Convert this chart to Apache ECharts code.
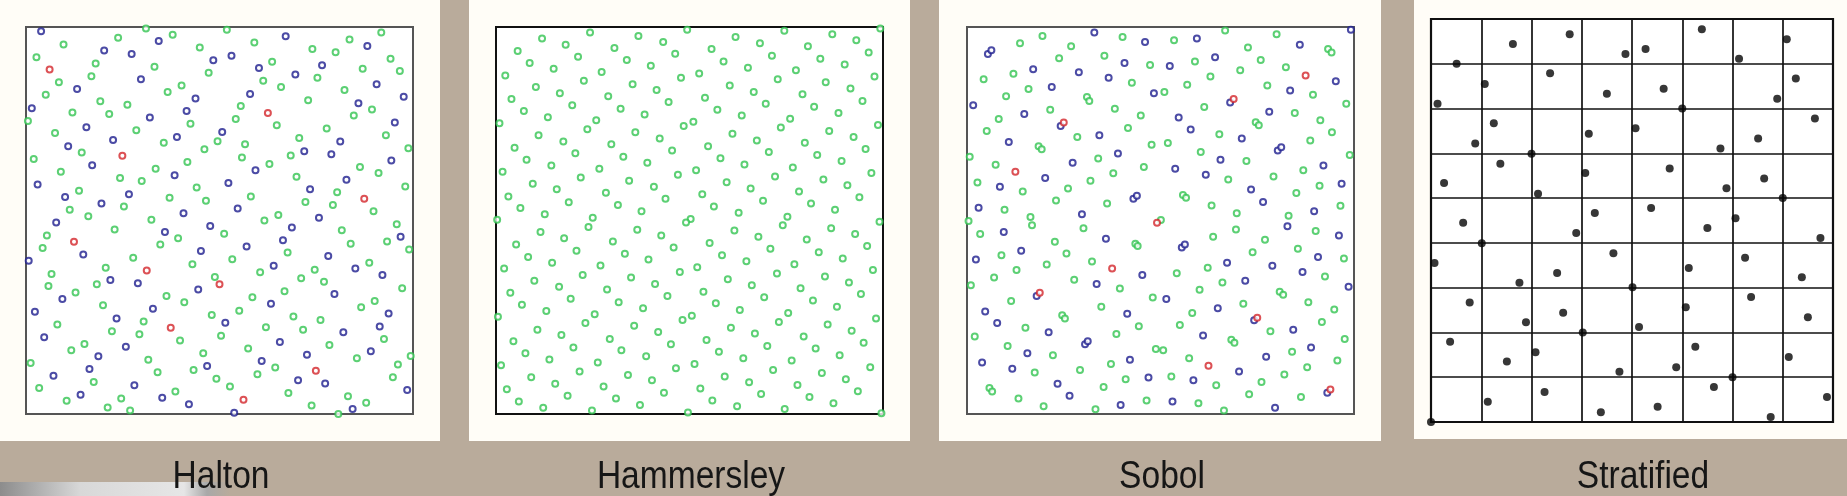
<!DOCTYPE html>
<html>
<head>
<meta charset="utf-8">
<script src="https://cdn.jsdelivr.net/npm/echarts@6/dist/echarts.min.js"></script>
<style>html,body{margin:0;padding:0;background:#b9ab9b;}#c{width:1847px;height:496px;}</style>
</head>
<body>
<div id="c"></div>
<script>
// ---- titles ----
const panelTitles = ['Halton', 'Hammersley', 'Sobol', 'Stratified'];

// ---- Halton (percent of unit square) ----
const haltonRed = [[6.1,89.0],[62.5,77.8],[24.9,66.7],[87.4,55.6],[12.4,44.5],[31.2,37.1],[50.0,33.5],[37.4,22.3],[74.9,11.2],[56.2,3.7]];
const haltonBlue = [[3.9,98.9],[34.3,96.4],[67.1,97.6],[88.2,95.1],[20.2,93.9],[27.3,93.0],[48.4,91.4],[53.1,92.6],[60.2,89.4],[76.5,90.1],[29.7,86.5],[69.6,87.7],[13.2,84.0],[90.6,85.2],[43.8,81.5],[57.9,82.7],[97.6,82.0],[1.5,79.0],[85.9,80.3],[41.5,78.3],[32.0,76.6],[95.3,75.3],[15.6,74.1],[50.7,72.9],[22.5,70.8],[39.0,71.6],[81.2,70.4],[10.9,69.2],[71.9,67.9],[78.9,67.1],[17.1,64.3],[94.4,65.5],[38.4,61.7],[59.3,63.0],[82.8,60.5],[3.0,59.3],[52.3,59.7],[73.4,58.1],[10.1,56.1],[26.6,56.8],[19.5,54.4],[54.7,53.1],[40.7,51.9],[75.7,50.7],
[7.8,49.5],[47.6,48.6],[68.7,48.2],[35.9,47.0],[66.4,44.9],[96.8,45.8],[57.0,43.3],[14.8,41.2],[45.2,42.1],[78.1,40.8],[0.7,39.6],[64.0,38.3],[85.1,37.6],[92.1,35.9],[21.8,34.6],[28.9,33.8],[44.5,32.2],[9.4,29.7],[79.7,31.0],[63.3,28.5],[2.3,26.4],[32.8,27.2],[93.7,26.0],[23.4,24.7],[51.5,23.6],[91.4,22.6],[82.0,21.1],[4.7,19.8],[65.6,18.6],[25.8,17.4],[89.1,16.2],[72.6,15.3],[18.7,14.9],[60.9,13.7],[16.4,11.6],[46.8,12.4],[7.1,9.9],[70.3,8.7],[77.3,7.9],[28.0,7.4],[98.5,6.2],[14.1,5.0],[35.2,4.2],[42.1,2.5],[84.4,1.3],[53.8,0.3]];
const haltonGreen = [[31,99.6],[37.9,98.0],[51.9,99.3],[91.8,98.6],[9.7,95.5],[23.8,97.2],[59.0,96.0],[83.6,96.8],[44.9,94.7],[2.7,92.2],[74.0,94.3],[80.0,93.5],[94.2,91.8],[18.0,90.6],[33.2,89.7],[63.6,91.0],[87.0,89.2],[96.6,88.6],[16.9,87.3],[47.2,88.2],[75.3,86.9],[8.5,85.7],[36.6,83.2],[40.2,84.9],[61.3,86.1],[65.9,84.5],[82.3,83.7],[5.1,82.5],[19.2,80.8],[26.2,79.9],[55.5,79.6],[72.9,81.1],[12.0,77.9],[21.5,77.5],[89.4,78.7],[84.7,77.1],[0.5,75.7],[54.2,76.2],[42.5,75.0],[64.8,74.6],[7.5,72.6],[28.5,73.3],[77.7,73.8],[35.6,70.1],[49.5,70.5],[56.6,69.7],[70.6,71.3],[93.0,72.0],[14.4,67.6],[46.1,68.4],[55.8,66.3],[68.4,66.8],[98.8,68.7],[2.0,65.9],[41.7,65.1],[62.9,64.6],[9.0,62.6],[33.5,63.4],[86.3,63.8],[91.1,62.3],[24.3,61.0],[29.9,60.2],[69.9,61.3],[44.1,58.5],[98.0,58.8],[13.7,57.7],[37.1,55.9],[46.5,55.1],[58.1,56.2],[80.4,57.3],[72.2,54.8],[25.3,53.6],[11.3,52.8],[79.3,54.0],[89.8,52.4],[16.1,51.1],[65.2,51.4],
[32.4,50.2],[61.6,50.0],[95.8,49.0],[22.9,47.7],[51.2,46.6],[81.6,47.5],[5.4,46.1],[39.3,45.4],[93.3,44.6],[83.9,44.0],[4.3,42.9],[34.7,43.8],[67.6,41.7],[99.0,42.5],[27.7,40.4],[53.3,40.0],[43.0,38.7],[88.7,39.1],[20.6,37.8],[6.6,36.2],[60.5,36.6],[74.6,37.3],[48.8,35.4],[71.1,35.1],[5.8,33.1],[18.3,33.5],[77.0,34.2],[12.8,31.4],[66.8,31.7],[97.2,32.5],[36.3,30.5],[58.5,30.2],[40.9,28.9],[19.9,28.1],[90.1,29.2],[86.6,27.6],[48.0,25.6],[55.1,26.7],[69.1,25.2],[76.1,24.3],[8.1,23.1],[30.4,23.9],[22.2,21.4],[62.0,22.4],[71.6,21.8],[29.3,20.6],[50.4,20.2],[39.8,19.0],[92.5,19.4],[15.1,18.1],[78.4,17.8],[11.7,16.5],[57.4,16.9],[45.8,15.7],[1.2,13.2],[31.6,14.0],[85.5,14.4],[99.4,15.0],[34.0,10.8],[43.3,11.4],[64.4,12.0],[96.1,12.8],[17.5,8.3],[49.2,9.1],[59.8,10.3],[94.8,9.5],[3.4,6.7],[52.7,7.1],[38.6,5.8],[67.8,5.4],[24.6,4.0],[83.2,4.6],[10.5,3.4],[73.8,2.2],[87.9,2.9],[21.1,1.7],[26.9,0.9],[80.7,0.0]];

// ---- Hammersley ----
const hammersley = [[11.9,97.0],[24.3,98.6],[36.8,97.7],[49.4,99.3],[61.9,97.4],[74.5,99.0],[86.9,98.1],[99.3,99.6],
[5.6,93.8],[18.0,95.4],[30.6,94.6],[43.2,96.1],[55.7,94.3],[68.2,95.8],[80.6,95.0],[93.1,96.6],
[8.7,90.7],[21.2,92.3],[33.8,91.5],[46.3,93.1],[58.8,91.1],[71.3,92.6],[83.8,91.8],[96.3,93.4],
[2.4,87.5],[14.9,89.2],[27.3,88.4],[40.0,90.0],[52.5,88.0],[65.1,89.5],[77.5,88.8],[90.1,90.3],
[10.3,84.5],[22.7,86.1],[35.3,85.2],[47.8,86.9],[60.4,84.9],[72.8,86.5],[85.2,85.7],[97.8,87.2],
[4.0,81.4],[16.5,82.9],[29.0,82.1],[41.5,83.7],[54.0,81.7],[66.6,83.2],[79.2,82.6],[91.6,84.1],
[7.2,78.3],[19.7,79.8],[32.2,78.9],[44.6,80.6],[57.2,78.6],[69.7,80.2],[82.2,79.4],[94.7,80.9],
[0.9,75.1],[13.4,76.7],[25.9,75.9],[38.4,77.4],[51.0,75.5],[63.5,77.1],[76.0,76.3],[88.5,77.8],
[11.0,72.0],[23.6,73.6],[36.0,72.8],[48.5,74.4],[61.1,72.4],[73.6,74.0],[86.1,73.1],[98.7,74.7],
[4.8,68.8],[17.4,70.4],[29.8,69.7],[42.3,71.2],[54.8,69.2],[67.4,70.7],[79.8,70.1],[92.4,71.6],
[7.9,65.7],[20.5,67.4],[32.9,66.5],[45.5,68.1],[58.0,66.1],[70.5,67.7],[83.0,66.9],[95.5,68.5],
[1.7,62.6],[14.3,64.2],[26.7,63.4],[39.1,64.9],[51.7,63.0],[64.2,64.5],[76.7,63.7],[89.3,65.4],
[9.5,59.5],[21.9,61.1],[34.4,60.3],[47.0,61.8],[59.6,59.9],[72.1,61.4],[84.6,60.6],[97.0,62.3],
[3.2,56.2],[15.7,58.1],[28.4,57.2],[40.8,58.7],[53.3,56.8],[65.8,58.3],[78.3,57.5],[90.8,59.1],
[6.3,53.2],[18.8,54.7],[31.5,54.0],[43.8,55.6],[56.3,53.6],[69.0,55.1],[81.4,54.4],[93.9,56.0],
[12.6,51.6],[37.6,52.4],[62.7,52.0],[87.6,52.8],
[25.0,50.7],[75.3,51.0],[50.3,50.4],[49.1,49.5],[0.3,50.2],[99.1,49.7],[23.9,48.3],[74.1,48.8],[86.6,48.0],[11.5,47.0],[36.5,47.6],[61.6,47.4],[92.8,46.5],
[17.6,45.4],[42.7,46.1],[67.8,45.8],[30.2,44.6],[55.2,44.2],[80.3,45.1],[5.2,43.8],[95.9,43.4],[45.9,43.0],[70.9,42.7],[20.8,42.2],[83.4,41.8],[33.3,41.4],[58.4,41.0],[8.3,40.6],[89.6,40.2],[39.4,39.9],
[64.7,39.5],[14.5,39.1],[27.0,38.4],[52.0,37.9],[77.1,38.7],[2.1,37.6],[97.4,37.2],[47.5,36.7],[72.6,36.3],[22.4,35.9],[34.9,35.3],[59.9,34.8],[85.0,35.5],[9.9,34.4],
[41.1,33.6],[66.1,33.3],[91.2,34.0],[16.3,32.9],[28.7,32.2],[53.6,31.6],[78.7,32.5],[3.7,31.3],[44.3,30.5],[69.3,30.2],[94.3,31.0],[19.3,29.8],[31.7,28.9],[56.8,28.6],[81.9,29.3],
[6.7,28.2],[38.0,27.3],[63.0,26.9],[88.1,27.7],[13.0,26.6],[25.5,25.8],[50.6,25.4],[48.2,24.3],[75.5,26.1],[0.5,25.1],[98.2,24.7],[23.1,23.5],[73.1,23.8],[35.7,22.8],[60.7,22.3],[85.7,23.1],
[10.7,21.8],[41.9,21.2],[66.9,20.8],[91.9,21.5],[16.9,20.4],[29.4,19.4],[54.4,19.1],[79.5,20.0],[4.5,18.8],[95.0,18.4],[45.2,18.0],[70.1,17.6],[20.0,17.2],[32.4,16.5],[57.6,16.1],[82.6,16.9],
[7.6,15.7],[38.8,14.9],[63.9,14.4],[88.8,15.2],[13.8,14.1],[26.3,13.3],[51.3,12.9],[76.4,13.8],[1.3,12.6],[96.7,12.1],[46.5,11.8],[71.6,11.4],[21.6,11.0],[34.1,10.1],[59.1,9.7],[84.2,10.6],
[9.1,9.5],[40.3,8.7],[65.4,8.2],[90.4,9.0],[15.3,7.8],[27.8,7.1],[52.8,6.6],[77.9,7.5],[2.8,6.4],[43.4,5.5],[68.5,5.2],[93.5,5.9],[18.5,4.7],[31.0,4.0],[55.9,3.5],[81.0,4.4],[5.9,3.2],[12.2,1.6],[37.2,2.3],[62.3,2.0],[87.2,2.8],[24.8,0.9],[49.6,0.4],[74.6,1.3],[99.6,0.2]];

// ---- Sobol ----
const sobolRed = [[87.5,87.5],[68.9,81.4],[25.0,75.3],[12.5,62.6],[49.1,49.4],[37.5,37.6],[18.8,31.3],[75.0,24.9],[62.4,12.5],[93.9,6.3]];
const sobolBlue = [[32.9,98.6],[46.0,96.1],[59.4,97.0],[86.0,95.4],[99.2,99.3],[5.4,93.0],[6.3,94.0],[40.7,90.7],[52.4,89.9],[64.1,92.2],[17.1,89.1],[28.9,88.3],[36.6,86.9],[95.3,86.0],[21.9,84.5],[83.5,83.6],[48.3,82.9],[1.6,79.8],[68.0,80.5],[14.8,77.5],[54.7,76.6],[78.1,78.1],[24.2,74.4],[57.8,73.5],[10.8,70.3],[34.2,72.0],[71.0,71.2],[80.3,68.1],[81.2,68.9],[27.3,64.9],[39.0,67.3],[65.5,65.7],[53.8,63.4],[92.1,64.2],[61.7,61.8],[20.2,61.0],[96.8,59.5],[8.5,58.7],[73.4,58.0],[43.0,55.6],[43.9,56.4],[76.5,54.8],[3.0,53.3],[89.7,52.4],[29.7,51.6],
[82.8,48.5],[9.5,47.0],[35.9,45.3],[55.5,43.0],[56.3,43.8],[96.1,46.1],[2.3,39.9],[14.0,42.2],[90.7,40.6],[67.2,39.1],[78.9,38.3],[45.3,35.9],[86.7,36.7],[33.5,33.6],[71.9,34.4],[98.6,32.9],[18.0,30.5],[51.5,29.7],[64.8,27.3],[4.7,26.5],[41.4,25.9],[7.8,23.5],[74.2,24.2],[21.1,21.1],[61.0,20.3],[84.3,21.8],[30.5,18.0],[31.2,18.8],[88.9,17.2],[15.6,15.7],[77.3,14.8],[3.9,13.3],[42.1,14.0],[11.7,11.7],[70.3,11.0],[46.9,9.4],[58.5,8.7],[23.4,7.8],[93.1,5.5],[26.5,4.7],[53.1,3.2],[39.7,2.3],[79.6,1.6]];
const sobolGreen = [[19.5,97.7],[40.2,97.4],[53.5,96.6],[66.7,99.1],[80.0,98.1],[13.7,95.8],[26.9,95.0],[72.6,94.7],[93.3,94.3],[94.2,93.4],[23.8,91.9],[35.5,92.6],[47.3,90.2],[58.9,91.1],[75.9,91.5],[12.0,87.9],[70.6,88.8],[62.9,87.2],[82.4,89.6],[4.3,86.5],[15.9,84.0],[42.6,85.6],[56.9,85.1],[77.6,84.9],[10.1,82.1],[31.0,81.9],[31.6,80.9],[51.0,83.2],[89.4,82.5],[38.2,78.9],[61.3,79.3],[98.0,80.2],[21.5,78.6],[44.9,77.1],[84.7,77.8],[8.2,76.2],[41.6,73.9],[74.6,75.4],[75.4,74.6],[91.3,75.9],[5.1,73.1],[28.5,71.6],[65.2,72.3],[94.3,72.8],[47.7,69.6],[51.9,70.0],[18.5,69.2],[19.3,68.4],[88.7,70.7],[0.7,66.5],[7.4,64.4],[33.9,66.0],[60.4,67.7],[72.2,65.4],[98.9,66.9],[45.7,63.8],[37.8,62.2],[86.9,63.0],[2.7,59.8],[31.9,60.3],[67.5,60.6],[79.2,61.4],[14.4,57.5],[26.1,58.3],[91.1,59.0],[85.1,57.1],[55.8,56.6],[56.6,55.9],[23.0,55.2],[36.2,54.4],[63.2,53.9],[9.7,52.8],[96.5,53.8],[69.7,51.9],[83.1,51.2],[16.4,50.9],
[0.4,49.9],[16.8,48.8],[50.1,50.1],[30.1,48.0],[69.5,47.7],[90.1,47.3],[3.4,46.5],[43.5,44.0],[44.1,43.4],[63.6,45.8],[77.0,45.0],[22.7,44.5],[85.5,42.7],[8.9,41.0],[25.7,41.5],[73.8,41.8],[97.4,40.2],[20.6,38.6],[32.3,39.4],[12.8,37.2],[54.2,36.4],[62.2,37.8],[7.0,35.3],[27.7,34.7],[92.5,35.5],[1.0,33.3],[39.5,32.4],[66.0,34.0],[48.0,30.1],[60.1,32.1],[80.8,31.6],[81.7,30.8],[11.4,29.2],[34.7,27.7],[71.4,28.5],[88.2,28.9],[58.2,26.1],[94.9,27.0],[24.6,25.5],[25.3,24.7],[44.4,22.7],[55.0,23.0],[91.7,23.8],[15.1,22.3],[38.6,20.7],[78.4,21.4],[2.0,20.0],[68.3,19.2],[69.1,18.4],[97.6,19.4],[10.5,17.6],[48.8,16.8],[50.7,16.5],[22.2,15.2],[57.4,14.4],[84.0,16.1],[95.7,13.8],[37.2,12.9],[87.9,12.1],[29.2,11.4],[17.5,10.7],[52.8,9.7],[82.0,10.2],[41.0,9.0],[76.1,8.3],[64.4,7.4],[5.8,6.7],[6.5,5.8],[35.3,7.0],[72.9,5.1],[86.3,4.4],[13.3,4.0],[46.4,3.5],[59.8,2.8],[19.8,2.0],[33.2,1.2],[66.4,0.9]];

// ---- Stratified (cell units: 8 columns x 9 rows) ----
const stratified = [[2.76,8.66],[1.63,8.44],[5.39,8.77],[7.08,8.55],[3.87,8.22],[4.27,8.33],[6.13,8.11],[0.51,8.00],[2.37,7.79],[1.07,7.55],[7.26,7.67],[3.50,7.33],[4.63,7.44],[6.89,7.22],[0.13,7.11],[5.00,7.00],[1.25,6.67],[7.64,6.78],[3.14,6.44],[4.07,6.56],[6.51,6.33],[0.88,6.22],[5.76,6.11],[2.00,5.99],[1.38,5.77],[4.75,5.66],[3.07,5.56],[6.63,5.44],[0.26,5.34],[5.88,5.22],[2.13,5.10],[7.00,5.00],[3.26,4.67],[4.38,4.78],[0.64,4.45],[6.06,4.55],[5.50,4.33],[2.89,4.22],[7.75,4.11],[1.01,3.99],[3.63,3.77],[6.25,3.67],[0.07,3.55],[5.13,3.44],[2.51,3.33],[7.38,3.23],[1.76,3.11],[4.01,3.01],[6.37,2.79],[0.77,2.67],[5.07,2.56],[2.63,2.44],[7.50,2.34],[1.89,2.23],[4.14,2.12],[3.02,2.00],[0.38,1.79],[5.26,1.68],[2.08,1.56],[7.12,1.45],[1.51,1.35],[4.88,1.22],[3.75,1.12],[6.00,1.00],[5.63,0.78],[2.26,0.67],[7.88,0.56],[1.13,0.45],[4.51,0.34],[3.38,0.22],[6.76,0.11],[0.00,0.00]];
const stratCols = 8, stratRows = 9;

// ---------------- chart ----------------
const GREEN = '#33c451', BLUE = '#1e1e8e', RED = '#d3252b';
const chart = echarts.init(document.getElementById('c'), null, {renderer: 'canvas'});

const grids = [
  {left: 26, top: 27, width: 387, height: 387, show: true, backgroundColor: '#ffffff', borderColor: '#555555', borderWidth: 2},
  {left: 496, top: 27, width: 387, height: 387, show: true, backgroundColor: '#ffffff', borderColor: '#111111', borderWidth: 2},
  {left: 967, top: 27, width: 387, height: 387, show: true, backgroundColor: '#ffffff', borderColor: '#555555', borderWidth: 2},
  {left: 1431, top: 19, width: 402, height: 403, show: true, backgroundColor: '#ffffff', borderColor: '#111111', borderWidth: 2.2}
];
const hidden = {show: false};
const xAxes = [0,1,2].map(i => ({gridIndex: i, type: 'value', min: 0, max: 100, axisLine: hidden, axisTick: hidden, axisLabel: hidden, splitLine: hidden}));
const yAxes = [0,1,2].map(i => ({gridIndex: i, type: 'value', min: 0, max: 100, axisLine: hidden, axisTick: hidden, axisLabel: hidden, splitLine: hidden}));
xAxes.push({gridIndex: 3, type: 'value', min: 0, max: stratCols, interval: 1, axisLine: hidden, axisTick: hidden, axisLabel: hidden, splitLine: {show: true, lineStyle: {color: '#111', width: 1.7}}});
yAxes.push({gridIndex: 3, type: 'value', min: 0, max: stratRows, interval: 1, axisLine: hidden, axisTick: hidden, axisLabel: hidden, splitLine: {show: true, lineStyle: {color: '#111', width: 1.7}}});

function ring(data, idx, color) {
  return {type: 'scatter', xAxisIndex: idx, yAxisIndex: idx, data: data, symbol: 'emptyCircle', symbolSize: 6,
    itemStyle: {color: color, borderColor: color, borderWidth: 1.7}, silent: true, animation: false};
}
const series = [
  ring(haltonGreen, 0, GREEN), ring(haltonBlue, 0, BLUE), ring(haltonRed, 0, RED),
  ring(hammersley, 1, GREEN),
  ring(sobolGreen, 2, GREEN), ring(sobolBlue, 2, BLUE), ring(sobolRed, 2, RED),
  {type: 'scatter', xAxisIndex: 3, yAxisIndex: 3, data: stratified, symbol: 'circle', symbolSize: 8,
   itemStyle: {color: '#050505'}, silent: true, animation: false, clip: false}
];

const cards = [[0, 440, 441], [469, 441, 441], [939, 442, 441], [1414, 433, 439]];
const titleX = [221, 691, 1162, 1643];
const graphic = [];
cards.forEach(c => graphic.push({type: 'rect', z: -10, shape: {x: c[0], y: 0, width: c[1], height: c[2]}, style: {fill: '#fffdf7'}}));
graphic.push({type: 'rect', z: -10, shape: {x: 0, y: 482, width: 230, height: 14},
  style: {fill: new echarts.graphic.LinearGradient(0, 0, 1, 0, [{offset: 0, color: '#8c8c8c'}, {offset: 0.35, color: '#d8d8d8'}, {offset: 0.8, color: '#e6e6e6'}, {offset: 0.9, color: '#a8a8a8'}, {offset: 1, color: '#b9ab9b'}])}});
panelTitles.forEach((t, i) => graphic.push({type: 'text', z: 10, x: titleX[i], y: 477, scaleX: 0.86,
  style: {text: t, fill: '#161616', font: '39px "Liberation Sans", Arial, sans-serif', textAlign: 'center', textVerticalAlign: 'middle'}}));

chart.setOption({
  backgroundColor: '#b9ab9b',
  animation: false,
  grid: grids,
  xAxis: xAxes,
  yAxis: yAxes,
  series: series,
  graphic: graphic
});
</script>
</body>
</html>
